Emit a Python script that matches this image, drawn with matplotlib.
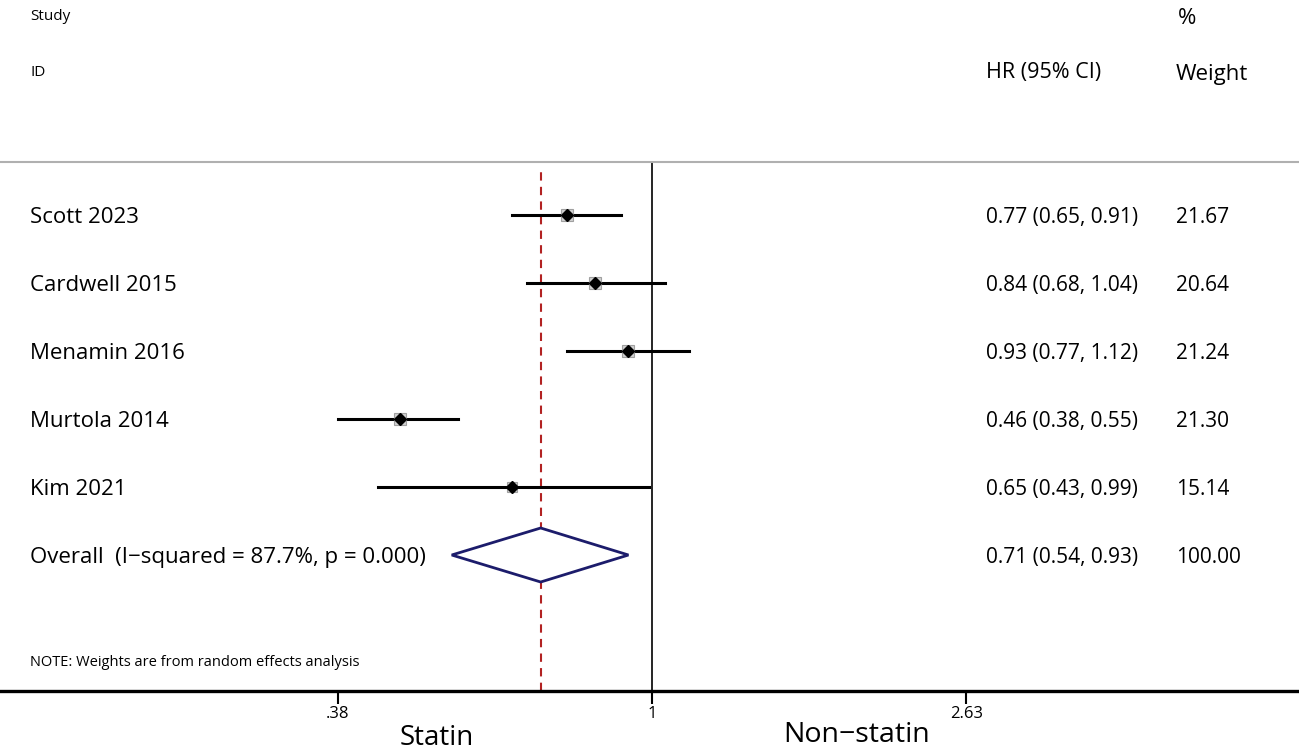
import numpy as np
import matplotlib
matplotlib.use("Agg")
import matplotlib.pyplot as plt
from matplotlib.patches import Polygon

# === Data === #
studies = ["Scott 2023", "Cardwell 2015", "Menamin 2016", "Murtola 2014", "Kim 2021"]
hr = [0.77, 0.84, 0.93, 0.46, 0.65]
lo = [0.65, 0.68, 0.77, 0.38, 0.43]
hi = [0.91, 1.04, 1.12, 0.55, 0.99]
weights = [21.67, 20.64, 21.24, 21.30, 15.14]

overall_label = "Overall  (I\u2212squared = 87.7%, p = 0.000)"
overall_hr, overall_lo, overall_hi = 0.71, 0.54, 0.93
overall_weight = 100.00

xticks = [0.38, 1, 2.63]
xtick_labels = [".38", "1", "2.63"]

plt.rcParams['font.family'] = ['Open Sans', 'DejaVu Sans']

W, H = 1299, 752
fig = plt.figure(figsize=(W / 100, H / 100), dpi=100)
# axes: top edge = separator line, bottom edge = x axis line
top_px, bot_px = 162, 691
ax = fig.add_axes([0, (H - bot_px) / H, 1, (bot_px - top_px) / H])

row0, step = 215, 68  # pixel position of first row and row spacing
def rowy(px):
    return (px - row0) / step

ax.set_xscale("log")
ppu = 325.0  # pixels per log unit
ax.set_xlim(np.exp(-652 / ppu), np.exp((W - 652) / ppu))
ax.set_ylim(rowy(bot_px), rowy(top_px))

for s in ["left", "right"]:
    ax.spines[s].set_visible(False)
ax.spines["top"].set_color("#b0b0b0")
ax.spines["top"].set_linewidth(1.5)
ax.spines["bottom"].set_linewidth(2.4)
ax.set_yticks([])
ax.set_xticks(xticks)
ax.set_xticklabels(xtick_labels)
ax.minorticks_off()
ax.tick_params(axis="x", direction="out", length=9, width=1.5, labelsize=12, pad=2)

# reference lines
ax.axvline(1, color="black", lw=1.2, zorder=1)
ax.axvline(overall_hr, ymax=0.99, color="#b22222", lw=1.5, ls=(0, (4, 3)), zorder=1)

# study rows
ys = np.arange(len(studies))
for i in range(len(studies)):
    ax.plot([lo[i], hi[i]], [ys[i], ys[i]], color="black", lw=2.2, zorder=2)
    box = 13 * weights[i] / 21.67 / 1.39
    ax.plot(hr[i], ys[i], marker="s", ms=box, mfc="#d0d0d0", mec="#a0a0a0", mew=0.8, zorder=3)
    ax.plot(hr[i], ys[i], marker="D", ms=6, color="black", zorder=4)

# overall diamond
yo = len(studies)
h = 27 / step
diamond = Polygon([[overall_lo, yo], [overall_hr, yo - h], [overall_hi, yo], [overall_hr, yo + h]],
                  closed=True, facecolor="white", edgecolor="#1c1c6b", lw=2, zorder=3)
ax.add_patch(diamond)

# text columns
tr = ax.get_yaxis_transform()  # x in axes fraction, y in data
x_lab, x_hr, x_w = 30 / W, 986 / W, 1176 / W
labels = studies + [overall_label]
hr_text = [f"{a:.2f} ({b:.2f}, {c:.2f})" for a, b, c in zip(hr, lo, hi)]
hr_text.append(f"{overall_hr:.2f} ({overall_lo:.2f}, {overall_hi:.2f})")
w_text = [f"{w:.2f}" for w in weights] + [f"{overall_weight:.2f}"]
for i in range(len(labels)):
    ax.text(x_lab, i, labels[i], transform=tr, fontsize=16, va="center_baseline", ha="left", clip_on=False)
    ax.text(x_hr, i, hr_text[i], transform=tr, fontsize=15, va="center_baseline", ha="left", clip_on=False)
    ax.text(x_w, i, w_text[i], transform=tr, fontsize=15, va="center_baseline", ha="left", clip_on=False)

# headers
ax.text(x_lab, rowy(15), "Study", transform=tr, fontsize=11, va="center_baseline", clip_on=False)
ax.text(x_lab, rowy(71), "ID", transform=tr, fontsize=11, va="center_baseline", clip_on=False)
ax.text(x_hr, rowy(70), "HR (95% CI)", transform=tr, fontsize=15.5, va="center_baseline", clip_on=False)
ax.text(1178 / W, rowy(16), "%", transform=tr, fontsize=16, va="center_baseline", clip_on=False)
ax.text(x_w, rowy(72), "Weight", transform=tr, fontsize=16, va="center_baseline", clip_on=False)

ax.text(x_lab, rowy(660), "NOTE: Weights are from random effects analysis", transform=tr,
        fontsize=10.5, va="center_baseline", clip_on=False)

# direction labels
ax.text(437 / W, rowy(745), "Statin", transform=tr, fontsize=20, ha="center", va="baseline", clip_on=False)
ax.text(857 / W, rowy(742), "Non\u2212statin", transform=tr, fontsize=20.5, ha="center", va="baseline", clip_on=False)

fig.savefig("out.png", dpi=100)
